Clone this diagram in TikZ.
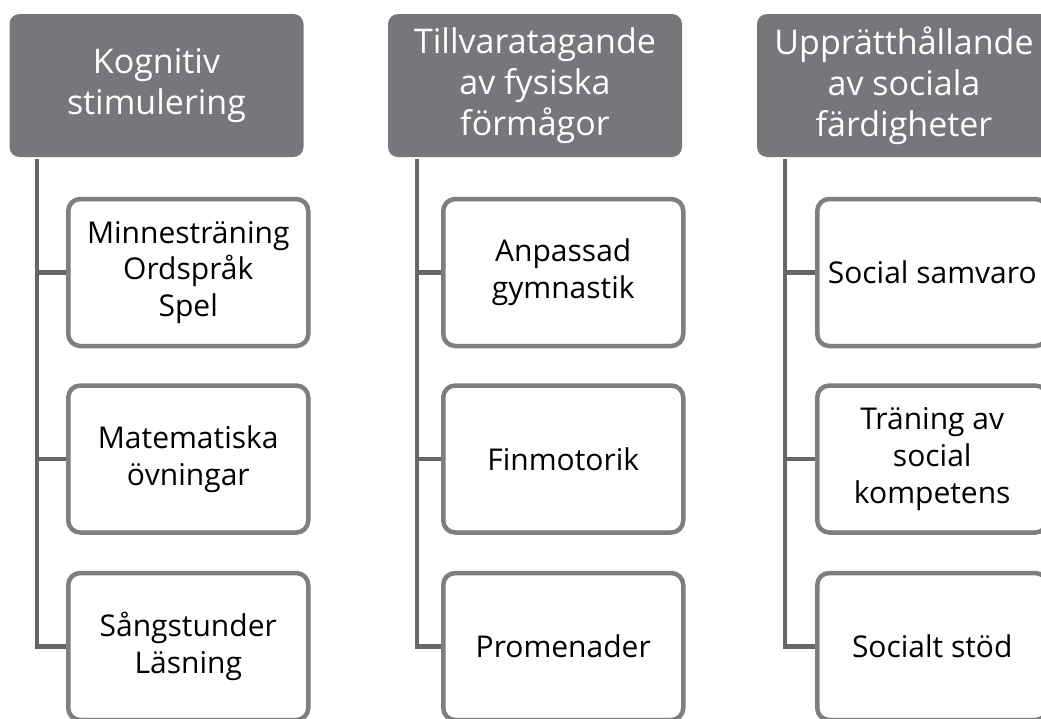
\documentclass[tikz,border=0pt]{standalone}
\usepackage{fontspec}
\setmainfont{Open Sans}
\definecolor{hdrgray}{RGB}{118,119,123}
\definecolor{boxgray}{RGB}{126,126,130}
\definecolor{linegray}{RGB}{102,102,104}
\tikzset{
  head/.style={fill=hdrgray,text=white,rounded corners=10pt,minimum width=294pt,
    minimum height=143pt,inner sep=0pt,align=center,font=\fontsize{34}{41}\selectfont},
  item/.style={draw=boxgray,line width=4.5pt,fill=white,rounded corners=12pt,minimum width=240pt,
    minimum height=147pt,inner sep=0pt,align=center,font=\fontsize{30}{36.6}\selectfont},
  conn/.style={draw=linegray,line width=4.5pt}
}
\begin{document}
\begin{tikzpicture}[x=1pt,y=-1pt]
	\useasboundingbox (0,0) rectangle (1041,718);
	\clip (0,0) rectangle (1041,718);
	% headers
	\node[head] (h1) at (156.5,85.5) {Kognitiv\\stimulering};
	\node[head] (h2) at (535,85.5) {Tillvaratagande\\av fysiska\\förmågor};
	\node[head] (h3) at (904,85.5) {Upprätthållande\\av sociala\\färdigheter};
	% trunks
	\coordinate (t1) at (37,159);
	\coordinate (t2) at (417,159);
	\coordinate (t3) at (785,159);
	\foreach \c/\y in {1/272.5,2/459,3/646.5}{
	    \coordinate (ka\c) at (66,\y);
	    \coordinate (fa\c) at (441,\y);
	    \coordinate (sa\c) at (815,\y);
	}
	\draw[conn] (t1) |- (ka3);
	\draw[conn] (t1 |- ka1) -- (ka1);
	\draw[conn] (t1 |- ka2) -- (ka2);
	\draw[conn] (t2) |- (fa3);
	\draw[conn] (t2 |- fa1) -- (fa1);
	\draw[conn] (t2 |- fa2) -- (fa2);
	\draw[conn] (t3) |- (sa3);
	\draw[conn] (t3 |- sa1) -- (sa1);
	\draw[conn] (t3 |- sa2) -- (sa2);
	% items
	\node[item,anchor=west] (k1) at (ka1) {Minnesträning\\Ordspråk\\Spel};
	\node[item,anchor=west] (k2) at (ka2) {Matematiska\\övningar};
	\node[item,anchor=west] (k3) at (ka3) {Sångstunder\\Läsning};
	\node[item,anchor=west] (f1) at (fa1) {Anpassad\\gymnastik};
	\node[item,anchor=west] (f2) at (fa2) {Finmotorik};
	\node[item,anchor=west] (f3) at (fa3) {Promenader};
	\node[item,anchor=west,minimum width=230pt] (s1) at (sa1) {Social samvaro};
	\node[item,anchor=west,minimum width=230pt] (s2) at (sa2) {Träning av\\social\\kompetens};
	\node[item,anchor=west,minimum width=230pt] (s3) at (sa3) {Socialt stöd};
\end{tikzpicture}
\end{document}
